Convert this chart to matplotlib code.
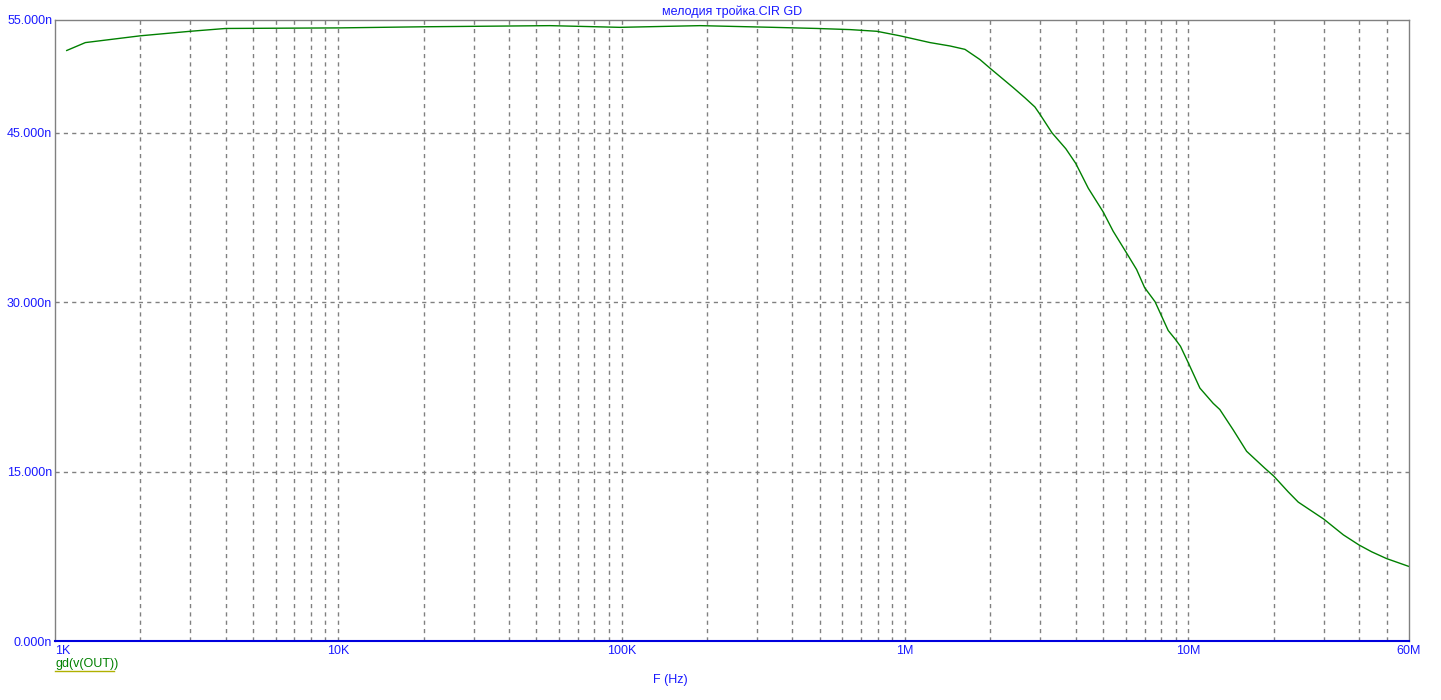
import matplotlib
matplotlib.use("Agg")
import matplotlib.pyplot as plt
from matplotlib.ticker import FixedLocator, NullFormatter

freq_hz = [1.10e3, 1.28e3, 2e3, 3e3, 4e3, 1e4, 2e4, 5.58e4, 9.85e4, 1.89e5, 3.42e5,
           4.89e5, 6.39e5, 7.95e5, 9.59e5, 1.224e6, 1.44e6, 1.626e6, 1.836e6, 2e6,
           2.22e6, 2.41e6, 2.65e6, 2.87e6, 3e6, 3.30e6, 3.69e6, 4e6, 4.43e6, 5e6,
           5.42e6, 6e6, 6.56e6, 7e6, 7.62e6, 8.48e6, 9e6, 9.37e6, 1e7, 1.097e7,
           1.222e7, 1.29e7, 1.438e7, 1.604e7, 1.86e7, 2e7, 2.25e7, 2.44e7, 3e7,
           3.52e7, 4e7, 4.43e7, 5e7, 6e7]
gd_ns = [52.3, 53.0, 53.6, 54.0, 54.25, 54.3, 54.4, 54.5, 54.35, 54.5, 54.35,
         54.25, 54.15, 54.0, 53.6, 53.0, 52.7, 52.4, 51.5, 50.7,
         49.75, 49.0, 48.1, 47.3, 46.6, 45.0, 43.6, 42.3, 40.1, 38.0,
         36.3, 34.5, 32.9, 31.3, 30.05, 27.5, 26.7, 26.1, 24.6, 22.4,
         21.05, 20.5, 18.7, 16.8, 15.3, 14.6, 13.2, 12.3, 10.8,
         9.4, 8.5, 7.9, 7.3, 6.6]

x_tick_vals = [1e3, 1e4, 1e5, 1e6, 1e7, 6e7]
x_tick_labels = ["1K", "10K", "100K", "1M", "10M", "60M"]
y_tick_vals = [0, 15, 30, 45, 55]
y_tick_labels = ["0.000n", "15.000n", "30.000n", "45.000n", "55.000n"]

title = "мелодия тройка.CIR GD"
xlabel = "F (Hz)"
legend_label = "gd(v(OUT))"

BLUE = "#1a1aff"
GRAY = "#808080"
GREEN = "#008000"
FONT = ["Liberation Sans", "DejaVu Sans"]

fig = plt.figure(figsize=(14.41, 7.0), dpi=100)
ax = fig.add_axes([55 / 1441, 59 / 700, 1354 / 1441, 621 / 700])

ax.plot(freq_hz, gd_ns, color=GREEN, lw=1.0)
ax.set_xscale("log")
ax.set_xlim(1e3, 6e7)
ax.set_ylim(0, 55)

# grid lines: all decades and sub-decades
minor = []
for d in range(3, 8):
    for m in range(1, 10):
        v = m * 10 ** d
        if 1e3 < v < 6e7:
            minor.append(v)
ax.xaxis.set_minor_locator(FixedLocator(minor))
ax.xaxis.set_minor_formatter(NullFormatter())
ax.set_xticks(x_tick_vals)
ax.set_xticklabels(x_tick_labels)
ax.set_yticks(y_tick_vals)
ax.set_yticklabels(y_tick_labels)
ax.grid(False)
for v in minor:
    ax.axvline(v, color=GRAY, lw=1.0, ls=(0, (3, 3)), zorder=0)
for v in [15, 30, 45]:
    ax.axhline(v, color=GRAY, lw=1.0, ls=(0, (3, 3)), zorder=0)

ax.tick_params(axis="both", which="both", length=0, colors=BLUE, labelsize=9)
for lab in ax.get_xticklabels() + ax.get_yticklabels():
    lab.set_fontfamily(FONT)
    lab.set_color(BLUE)
ax.tick_params(axis="x", pad=3)
ax.tick_params(axis="y", pad=2)
xl = ax.get_xticklabels()
xl[0].set_ha("left")

for s in ["left", "top", "right"]:
    ax.spines[s].set_color(GRAY)
    ax.spines[s].set_linewidth(1.0)
ax.spines["bottom"].set_color("#0000dd")
ax.spines["bottom"].set_linewidth(1.5)

fig.text(732 / 1441, 1 - 12 / 700, title, ha="center", va="center",
         color=BLUE, fontsize=9, family=FONT)
fig.text(670 / 1441, 1 - 680 / 700, xlabel, ha="center", va="center",
         color=BLUE, fontsize=9, family=FONT)
fig.text(55 / 1441, 1 - 664 / 700, legend_label, ha="left", va="center",
         color=GREEN, fontsize=9, family=FONT)
fig.add_artist(plt.Line2D([55 / 1441, 114 / 1441], [1 - 670.5 / 700, 1 - 670.5 / 700],
                          transform=fig.transFigure, color="#b0b000", lw=1.0))

fig.savefig("out.png", dpi=100)
